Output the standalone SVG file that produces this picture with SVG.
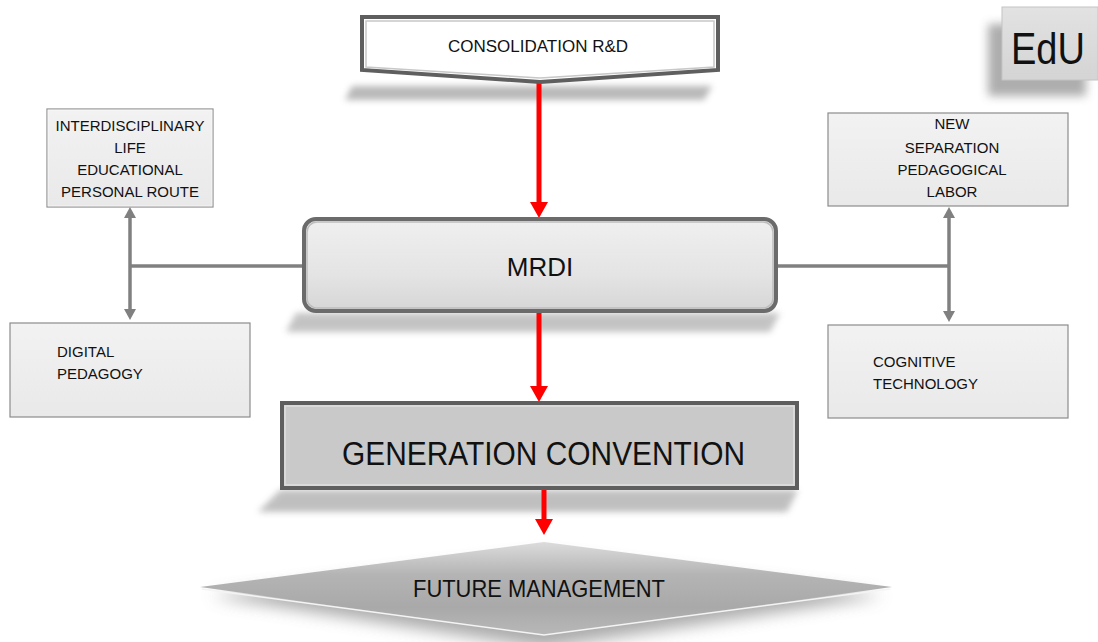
<svg xmlns="http://www.w3.org/2000/svg" width="1098" height="642" viewBox="0 0 1098 642">
  <style>
    text { font-family: "Liberation Sans", Arial, sans-serif; fill: #111; }
    .small { font-size: 15px; }
    .ctr { text-anchor: middle; }
    .side { fill: url(#boxGrad); stroke: #8c8c8c; stroke-width: 1.2; }
    .red { stroke: #ff0000; stroke-width: 5; fill: none; marker-end: url(#redHead); }
    .gray { stroke: #808080; stroke-width: 3.5; fill: none; }
    .grayArrow { stroke: #808080; stroke-width: 3.5; fill: none; marker-start: url(#grayHead); marker-end: url(#grayHead); }
  </style>
  <defs>
    <marker id="redHead" viewBox="0 0 16 18" refX="6" refY="9" markerWidth="16" markerHeight="18" markerUnits="userSpaceOnUse" orient="auto">
      <path d="M0,0 L16,9 L0,18 z" fill="#ff0000"/>
    </marker>
    <marker id="grayHead" viewBox="0 0 11 12" refX="3" refY="6" markerWidth="11" markerHeight="12" markerUnits="userSpaceOnUse" orient="auto-start-reverse">
      <path d="M0,0 L11,6 L0,12 z" fill="#808080"/>
    </marker>
    <linearGradient id="boxGrad" x1="0" y1="0" x2="0" y2="1">
      <stop offset="0" stop-color="#f2f2f2"/>
      <stop offset="1" stop-color="#e9e9e9"/>
    </linearGradient>
    <linearGradient id="mrdiGrad" x1="0" y1="0" x2="0" y2="1">
      <stop offset="0" stop-color="#f0f0f0"/>
      <stop offset="0.6" stop-color="#e4e4e4"/>
      <stop offset="1" stop-color="#d6d6d6"/>
    </linearGradient>
    <linearGradient id="diaGrad" x1="0" y1="0" x2="0" y2="1">
      <stop offset="0" stop-color="#dcdcdc"/>
      <stop offset="0.35" stop-color="#b4b4b4"/>
      <stop offset="0.7" stop-color="#a9a9a9"/>
      <stop offset="1" stop-color="#b8b8b8"/>
    </linearGradient>
    <linearGradient id="eduGrad" x1="0" y1="0" x2="0" y2="1">
      <stop offset="0" stop-color="#e2e2e2"/>
      <stop offset="1" stop-color="#d4d4d4"/>
    </linearGradient>
    <filter id="blur6" x="-20%" y="-50%" width="140%" height="200%">
      <feGaussianBlur stdDeviation="5"/>
    </filter>
    <filter id="blur3" x="-20%" y="-50%" width="140%" height="200%">
      <feGaussianBlur stdDeviation="3"/>
    </filter>
    <filter id="blur8" x="-30%" y="-60%" width="160%" height="220%">
      <feGaussianBlur stdDeviation="8"/>
    </filter>
  </defs>

  <rect width="1098" height="642" fill="#ffffff"/>

  <!-- shadows -->
  <g id="shadows">
    <polygon points="352,86 712,86 704,100 345,100" fill="#a8a8a8" filter="url(#blur3)" opacity="0.8"/>
    <polygon points="296,313 780,313 770,332 286,332" fill="#b5b5b5" filter="url(#blur3)" opacity="0.8"/>
    <polygon points="280,490 798,490 787,512 258,512" fill="#b5b5b5" filter="url(#blur3)" opacity="0.85"/>
    <rect x="988" y="24" width="98" height="72" fill="#9a9a9a" filter="url(#blur6)" opacity="0.8"/>
    <polygon points="210,596 544,556 884,596 544,648" fill="#8f8f8f" filter="url(#blur8)" opacity="0.75"/>
  </g>

  <g id="connectors">
    <line class="red" x1="539" y1="82" x2="539" y2="208"/>
    <line class="red" x1="539" y1="313" x2="539" y2="392"/>
    <line class="red" x1="544" y1="490" x2="544" y2="525"/>
    <line class="grayArrow" x1="130" y1="215" x2="130" y2="312"/>
    <line class="gray" x1="130" y1="266" x2="304" y2="266"/>
    <line class="grayArrow" x1="949" y1="215" x2="949" y2="314"/>
    <line class="gray" x1="776" y1="266" x2="949" y2="266"/>
  </g>

  <g id="consolidation">
    <polygon points="362,17 718,17 718,70 540,82 362,70" fill="#ffffff" stroke="#5f5f5f" stroke-width="4" stroke-linejoin="miter"/>
    <polygon points="366,21 714,21 714,67 540,78 366,67" fill="none" stroke="#c8c8c8" stroke-width="1.5"/>
    <text x="538" y="52" class="ctr" font-size="16" textLength="180" lengthAdjust="spacingAndGlyphs">CONSOLIDATION R&amp;D</text>
  </g>

  <g id="edu">
    <rect x="1002" y="7" width="96" height="73" fill="url(#eduGrad)" stroke="#c4c4c4" stroke-width="1"/>
    <text x="1011" y="64" font-size="44" textLength="74" lengthAdjust="spacingAndGlyphs">EdU</text>
  </g>

  <g id="interdisciplinary">
    <rect class="side" x="47" y="109" width="166" height="98"/>
    <rect x="48" y="110" width="164" height="96" fill="none" stroke="#ffffff" stroke-width="1" opacity="0.6"/>
    <text class="small ctr" x="130" y="131">INTERDISCIPLINARY</text>
    <text class="small ctr" x="130" y="153">LIFE</text>
    <text class="small ctr" x="130" y="175">EDUCATIONAL</text>
    <text class="small ctr" x="130" y="197">PERSONAL ROUTE</text>
  </g>

  <g id="digital">
    <rect class="side" x="10" y="323" width="240" height="94" stroke="#b0b0b0"/>
    <text class="small" x="57" y="357">DIGITAL</text>
    <text class="small" x="57" y="379">PEDAGOGY</text>
  </g>

  <g id="newseparation">
    <rect class="side" x="828" y="113" width="240" height="93"/>
    <text class="small ctr" x="952" y="129">NEW</text>
    <text class="small ctr" x="952" y="153">SEPARATION</text>
    <text class="small ctr" x="952" y="175">PEDAGOGICAL</text>
    <text class="small ctr" x="952" y="197">LABOR</text>
  </g>

  <g id="cognitive">
    <rect class="side" x="828" y="325" width="240" height="93" stroke="#b0b0b0"/>
    <text class="small" x="873" y="367">COGNITIVE</text>
    <text class="small" x="873" y="389">TECHNOLOGY</text>
  </g>

  <g id="mrdi">
    <rect x="304" y="219" width="472" height="92" rx="12" ry="12" fill="url(#mrdiGrad)" stroke="#6b6b6b" stroke-width="4"/>
    <rect x="307" y="222" width="466" height="86" rx="10" ry="10" fill="none" stroke="#bdbdbd" stroke-width="1.5"/>
    <text x="540" y="276" class="ctr" font-size="26">MRDI</text>
  </g>

  <g id="generation">
    <rect x="282" y="403" width="515" height="85" fill="#c9c9c9" stroke="#5e5e5e" stroke-width="4"/>
    <rect x="285" y="406" width="509" height="79" fill="none" stroke="#dedede" stroke-width="1.5"/>
    <text x="543.5" y="465" class="ctr" font-size="34" textLength="403" lengthAdjust="spacingAndGlyphs">GENERATION  CONVENTION</text>
  </g>

  <g id="future">
    <polygon points="200,587 544,542 892,587 544,635" fill="url(#diaGrad)"/>
    <polyline points="202,589 544,635 890,589" fill="none" stroke="#f4f4f4" stroke-width="1.5"/>
    <text x="539" y="597" class="ctr" font-size="24" textLength="252" lengthAdjust="spacingAndGlyphs">FUTURE MANAGEMENT</text>
  </g>
</svg>
